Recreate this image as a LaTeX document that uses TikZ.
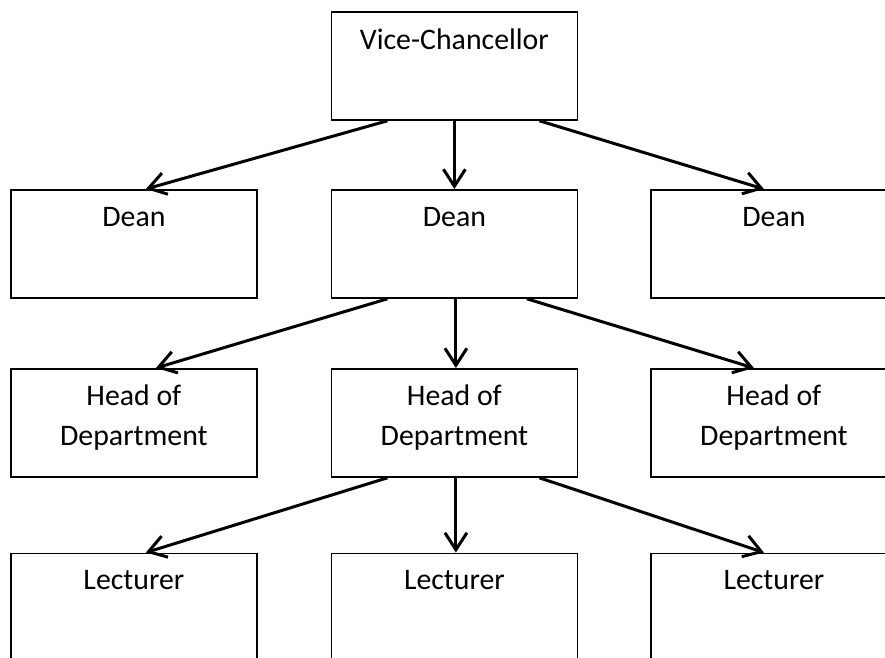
\documentclass[tikz,border=0pt]{standalone}
\usepackage{fontspec}
\setmainfont{Carlito}
\usetikzlibrary{arrows.meta,calc}
\begin{document}
\begin{tikzpicture}[x=1pt,y=-1pt,
 box/.style={draw,line width=1.8pt,minimum width=246pt,minimum height=108pt,inner sep=0pt,anchor=north west},
 lbl/.style={font=\fontsize{29.8}{39.3}\selectfont,align=center,inner sep=0pt,anchor=base},
 conn/.style={line width=3pt,-{Straight Barb[length=17pt,width=22pt,line width=3pt]}}]
\useasboundingbox (0,0) rectangle (885,657);
\clip (0,0) rectangle (885,657);
% boxes
\node[box] (vc) at (330.5,11) {};
\node[box] (d1) at (10,189) {};
\node[box] (d2) at (330.5,189) {};
\node[box] (d3) at (650,189) {};
\node[box] (h1) at (10,368) {};
\node[box] (h2) at (330.5,368) {};
\node[box] (h3) at (650,368) {};
\node[box] (l1) at (10,552.5) {};
\node[box] (l2) at (330.5,552.5) {};
\node[box] (l3) at (650,552.5) {};
% labels
\node[lbl] (tvc) at ([yshift=-38pt]vc.north) {Vice-Chancellor};
\node[lbl] (td1) at ([yshift=-37.5pt]d1.north) {Dean};
\node[lbl] (td2) at ([yshift=-37.5pt]d2.north) {Dean};
\node[lbl] (td3) at ([yshift=-37.5pt]d3.north) {Dean};
\node[lbl] (th1) at ([yshift=-77pt]h1.north) {Head of\\Department};
\node[lbl] (th2) at ([yshift=-77pt]h2.north) {Head of\\Department};
\node[lbl] (th3) at ([yshift=-77pt]h3.north) {Head of\\Department};
\node[lbl] (tl1) at ([yshift=-37pt]l1.north) {Lecturer};
\node[lbl] (tl2) at ([yshift=-37pt]l2.north) {Lecturer};
\node[lbl] (tl3) at ([yshift=-37pt]l3.north) {Lecturer};
% connectors
\draw[conn] ([xshift=-67pt]vc.south) -- ([xshift=12pt]d1.north);
\draw[conn] (vc.south) -- (d2.north);
\draw[conn] ([xshift=85pt]vc.south) -- ([xshift=-10pt]d3.north);
\draw[conn] ([xshift=-67pt]d2.south) -- ([xshift=22pt]h1.north);
\draw[conn] ([xshift=1.5pt]d2.south) -- ([xshift=1.5pt]h2.north);
\draw[conn] ([xshift=72.5pt]d2.south) -- ([xshift=-20pt]h3.north);
\draw[conn] ([xshift=-67pt]h2.south) -- ([xshift=12pt]l1.north);
\draw[conn] ([xshift=1.5pt]h2.south) -- ([xshift=1.5pt]l2.north);
\draw[conn] ([xshift=85pt]h2.south) -- ([xshift=-10pt]l3.north);
\end{tikzpicture}
\end{document}
